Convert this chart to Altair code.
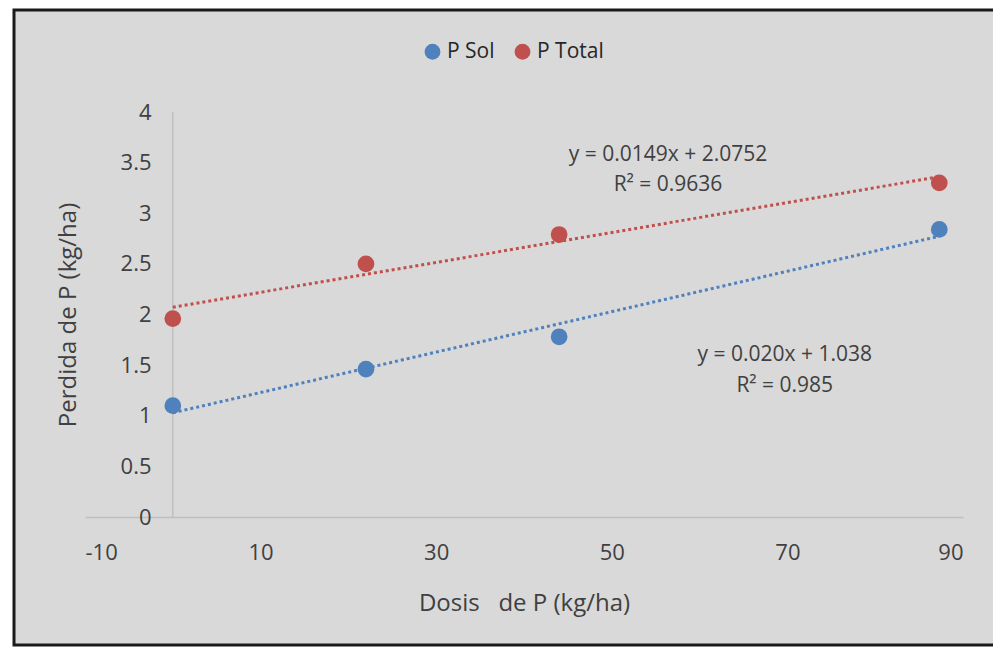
import altair as alt
import pandas as pd

# ---- data ----
dosis = [0, 22, 44, 87.3]
p_sol = [1.10, 1.46, 1.78, 2.84]
p_total = [1.96, 2.50, 2.79, 3.30]
series_names = ["P Sol", "P Total"]
series_colors = ["#4F81BD", "#C0504D"]
x_ticks = [-10, 10, 30, 50, 70, 90]
y_ticks = [0, 0.5, 1, 1.5, 2, 2.5, 3, 3.5, 4]

ann_text = ["y = 0.0149x + 2.0752", "R\u00b2 = 0.9636", "y = 0.020x + 1.038", "R\u00b2 = 0.985"]
ann_x = [56.4, 56.4, 69.7, 69.7]
ann_y = [3.575, 3.28, 1.60, 1.294]

rows = []
for name, vals in zip(series_names, [p_sol, p_total]):
    for xv, yv in zip(dosis, vals):
        rows.append({"series": name, "x": xv, "y": yv})
df = pd.DataFrame(rows)
ann = pd.DataFrame({"text": ann_text, "x": ann_x, "y": ann_y})

FONT = "Open Sans"
W, H = 878, 405
TXT = "#404040"

xscale = alt.Scale(domain=[-10, 90], nice=False, zero=False)
yscale = alt.Scale(domain=[0, 4], nice=False)
color = alt.Color(
    "series:N",
    scale=alt.Scale(domain=series_names, range=series_colors),
    legend=alt.Legend(
        title=None, orient="none", direction="horizontal",
        legendX=337, legendY=-71, symbolType="circle", symbolSize=250,
        labelFontSize=21, labelFont=FONT, labelColor="#262626",
        columnPadding=17, labelOffset=4, padding=0, symbolStrokeWidth=0,
        zindex=1,
    ),
)

frame = alt.Chart(pd.DataFrame({"a": [0]})).mark_rect(
    fill="#D9D9D9", stroke="#1a1a1a", strokeWidth=3
).encode(
    x=alt.value(-71), x2=alt.value(W + 100),
    y=alt.value(-102), y2=alt.value(H + 128),
)

yaxis_line = alt.Chart(pd.DataFrame({"a": [0]})).mark_rule(
    color="#BFBFBF", strokeWidth=1.5
).encode(
    x=alt.datum(0, scale=xscale), y=alt.datum(0, scale=yscale), y2=alt.datum(4)
)

base = alt.Chart(df)

points = base.mark_point(filled=True, opacity=1, size=280, shape="circle").encode(
    x=alt.X("x:Q", scale=xscale,
            axis=alt.Axis(values=x_ticks, title="Dosis\u00a0\u00a0\u00a0de P (kg/ha)",
                          labelExpr="toString(datum.value)",
                          grid=False, ticks=False, domainColor="#BFBFBF", domainWidth=1.5,
                          labelPadding=25, labelFontSize=22, labelFont=FONT, labelColor=TXT,
                          titleFontSize=24, titleFont=FONT, titleColor=TXT,
                          titleFontWeight="normal", titleY=86, titleBaseline="middle",
                          zindex=1)),
    y=alt.Y("y:Q", scale=yscale,
            axis=alt.Axis(values=y_ticks, title="Perdida de P (kg/ha)", grid=False,
                          labelExpr="toString(datum.value)",
                          ticks=False, domain=False, offset=-68, labelPadding=2,
                          labelFontSize=22, labelFont=FONT, labelColor=TXT,
                          titleFontSize=24, titleFont=FONT, titleColor=TXT,
                          titleFontWeight="normal", titleX=-85, titleY=H / 2,
                          titleAngle=-90, titleAlign="center", titleBaseline="middle",
                          zindex=1)),
    color=color,
)

trend = base.transform_regression("x", "y", groupby=["series"]).mark_line(
    strokeDash=[3, 3], strokeWidth=3
).encode(
    x=alt.X("x:Q", scale=xscale),
    y=alt.Y("y:Q", scale=yscale),
    color=color,
)

labels = alt.Chart(ann).mark_text(
    font=FONT, fontSize=21, color=TXT, align="center", baseline="middle"
).encode(
    x=alt.X("x:Q", scale=xscale), y=alt.Y("y:Q", scale=yscale), text="text:N"
)

chart = alt.layer(frame, yaxis_line, trend, points, labels).properties(
    width=W, height=H,
    autosize=alt.AutoSizeParams(type="none"),
    padding={"left": 77, "top": 104, "right": 30, "bottom": 130},
).configure_view(stroke=None).configure(background="white")

chart.save("out.html", embed_options={"renderer": "svg", "actions": False})
